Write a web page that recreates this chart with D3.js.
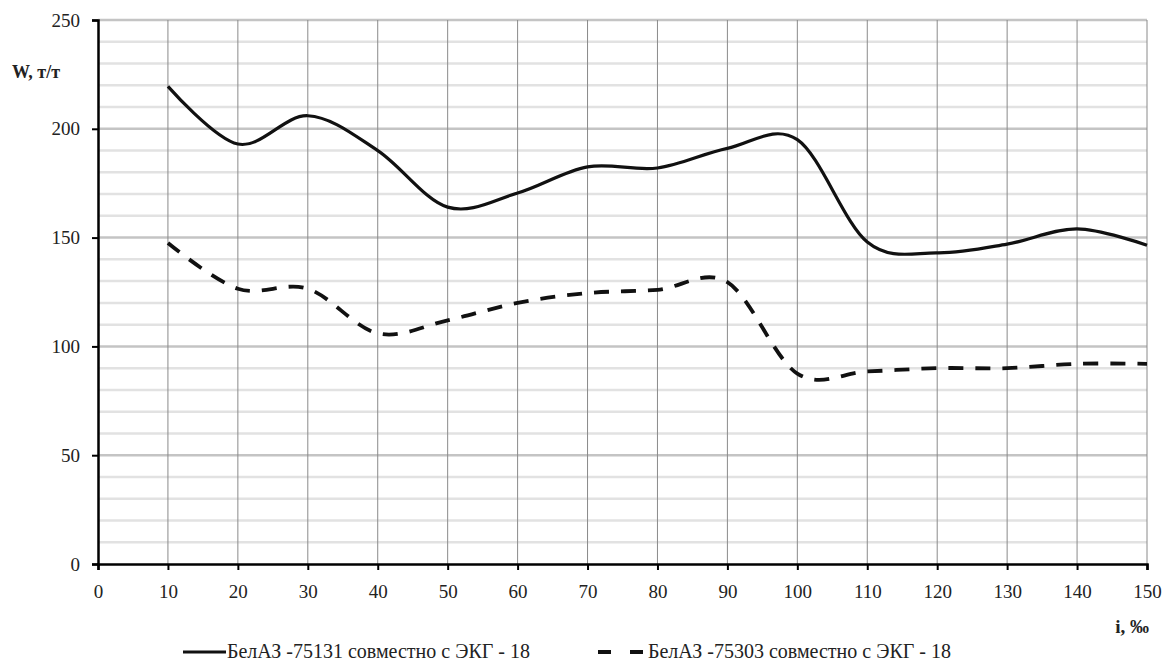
<!DOCTYPE html>
<html>
<head>
<meta charset="utf-8">
<script src="https://cdn.jsdelivr.net/npm/d3@7"></script>
<style>
  body { margin: 0; background: #fff; }
</style>
</head>
<body>
<svg id="chart" width="1164" height="661"></svg>
<script>
// slope, ‰
var slopes = [10, 20, 30, 40, 50, 60, 70, 80, 90, 100, 110, 120, 130, 140, 150];
// W, т/т
var belaz75131 = [219.5, 193, 206, 190, 164, 170.5, 182.5, 182, 191, 195, 148, 143, 147, 154, 146.5];
var belaz75303 = [147.5, 126.5, 126.5, 106, 112, 120, 124.5, 126, 129.5, 87.5, 88.5, 90, 90, 92, 92];

var seriesNames = ["БелАЗ -75131 совместно с ЭКГ - 18", "БелАЗ -75303 совместно с ЭКГ - 18"];
var xTicks = d3.range(0, 151, 10);
var yTicks = [0, 50, 100, 150, 200, 250];
var yMinor = d3.range(10, 251, 10);

var serif = "'Liberation Serif', 'Times New Roman', Tinos, 'DejaVu Serif', serif";

var svg = d3.select("#chart");

var x = d3.scaleLinear().domain([0, 150]).range([98, 1147]);
var y = d3.scaleLinear().domain([0, 250]).range([564, 20]);

// horizontal grid
svg.append("g").selectAll("line")
	.data(yMinor)
	.enter().append("line")
		.attr("x1", x(0)).attr("x2", x(150))
		.attr("y1", d => y(d)).attr("y2", d => y(d))
		.attr("stroke", d => d % 50 === 0 ? "#c4c4c4" : "#e2e2e2")
		.attr("stroke-width", 2.5);

// vertical grid
svg.append("g").selectAll("line")
	.data(xTicks.filter(d => d > 0))
	.enter().append("line")
		.attr("x1", d => x(d)).attr("x2", d => x(d))
		.attr("y1", y(250)).attr("y2", y(0))
		.attr("stroke", "#8a8a8a")
		.attr("stroke-width", 1);

var xAxis = d3.axisBottom(x).tickValues(xTicks).tickSize(6).tickPadding(14.5);
var yAxis = d3.axisLeft(y).tickValues(yTicks).tickSize(6).tickPadding(12);

var gx = svg.append("g")
	.attr("transform", "translate(0," + y(0) + ")")
	.call(xAxis);
var gy = svg.append("g")
	.attr("transform", "translate(" + x(0) + ",0)")
	.call(yAxis);

[gx, gy].forEach(g => {
	g.attr("font-family", null).attr("font-size", null);
	g.select(".domain").attr("stroke", "#000").attr("stroke-width", 2.5);
	g.selectAll(".tick line").attr("stroke", "#000").attr("stroke-width", 2);
	g.selectAll(".tick text")
		.style("font-family", serif)
		.style("font-size", "19px")
		.attr("fill", "#222");
});

// axis titles
svg.append("text")
	.attr("x", 12).attr("y", 78)
	.style("font-family", serif)
	.style("font-size", "18px").style("font-weight", "bold")
	.attr("fill", "#222")
	.text("W, т/т");
svg.append("text")
	.attr("x", 1149).attr("y", 633)
	.attr("text-anchor", "end")
	.style("font-family", serif)
	.style("font-size", "19px").style("font-weight", "bold")
	.attr("fill", "#222")
	.text("i, ‰");

// lines
var line = d3.line()
	.x(d => x(d[0]))
	.y(d => y(d[1]))
	.curve(d3.curveCardinal.tension(0));

svg.append("path")
	.datum(d3.zip(slopes, belaz75131))
	.attr("d", line)
	.attr("fill", "none")
	.attr("stroke", "#111")
	.attr("stroke-width", 3.2);

svg.append("path")
	.datum(d3.zip(slopes, belaz75303))
	.attr("d", line)
	.attr("fill", "none")
	.attr("stroke", "#111")
	.attr("stroke-width", 3.8)
	.attr("stroke-dasharray", "15,12");

// legend
var legend = svg.append("g");
legend.append("line")
	.attr("x1", 183).attr("x2", 226).attr("y1", 652).attr("y2", 652)
	.attr("stroke", "#111").attr("stroke-width", 3.2);
legend.append("text")
	.attr("x", 227).attr("y", 658)
	.style("font-family", serif)
	.style("font-size", "20px")
	.attr("fill", "#222")
	.text(seriesNames[0]);
legend.append("line")
	.attr("x1", 598).attr("x2", 644).attr("y1", 652).attr("y2", 652)
	.attr("stroke", "#111").attr("stroke-width", 3.8)
	.attr("stroke-dasharray", "13,19");
legend.append("text")
	.attr("x", 648).attr("y", 658)
	.style("font-family", serif)
	.style("font-size", "20px")
	.attr("fill", "#222")
	.text(seriesNames[1]);
</script>
</body>
</html>
